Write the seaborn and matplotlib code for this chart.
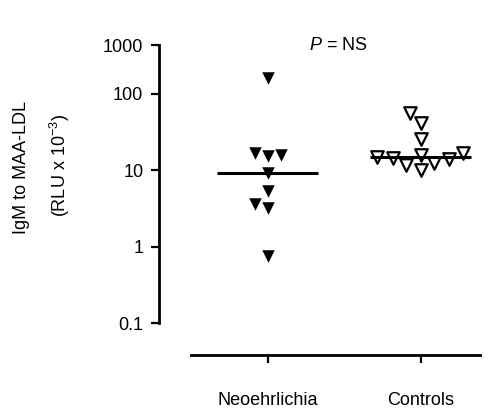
import numpy as np
import pandas as pd
import matplotlib
matplotlib.use("Agg")
import matplotlib.pyplot as plt
import seaborn as sns

# ---- data ----
categories = ["Neoehrlichia", "Controls"]
neo_values = [205, 16.7, 15.7, 15.2, 9.1, 5.3, 3.6, 3.2, 0.76]
control_values = [55.6, 41, 25.4, 16.7, 15.7, 14.8, 14.4, 13.9, 12.4, 11.6, 10]
ytick_values = [0.1, 1, 10, 100, 1000]
ytick_labels = ["0.1", "1", "10", "100", "1000"]

df = pd.DataFrame({
    "group": [categories[0]] * len(neo_values) + [categories[1]] * len(control_values),
    "value": neo_values + control_values,
})

sns.set_style("ticks")
plt.rcParams["font.family"] = ["Liberation Sans", "DejaVu Sans"]
plt.rcParams["mathtext.fontset"] = "custom"
plt.rcParams["mathtext.rm"] = "Liberation Sans"
plt.rcParams["mathtext.it"] = "Liberation Sans:italic"
plt.rcParams["mathtext.bf"] = "Liberation Sans:bold"
for k in ["text.color", "axes.labelcolor", "xtick.color", "ytick.color", "axes.edgecolor"]:
    plt.rcParams[k] = "black"

W, H = 494, 417
fig = plt.figure(figsize=(W / 100, H / 100), dpi=100)
ax = fig.add_axes([191 / W, 1 - 355 / H, (480 - 191) / W, (355 - 45) / H])

# segmented log axis: compressed above 100 (as in the original)
def fwd(y):
    l = np.log10(np.clip(np.asarray(y, dtype=float), 1e-12, None))
    return np.where(l <= 2, l, 2 + (l - 2) * 0.634)

def inv(v):
    v = np.asarray(v, dtype=float)
    return np.where(v <= 2, 10 ** v, 10 ** (2 + (v - 2) / 0.634))

ax.set_yscale("function", functions=(fwd, inv))

neo_df = df[df["group"] == categories[0]]
ctl_df = df[df["group"] == categories[1]]

sns.swarmplot(data=neo_df, x="group", y="value", order=categories, ax=ax,
              marker="v", size=9, color="black", linewidth=0, warn_thresh=1)
sns.swarmplot(data=ctl_df, x="group", y="value", order=categories, ax=ax,
              marker="v", size=9, color="white", edgecolor="black",
              linewidth=1.6, warn_thresh=1)

# median lines
sns.boxplot(data=df, x="group", y="value", order=categories, ax=ax,
            width=0.66, showbox=False, showcaps=False, showfliers=False,
            whiskerprops={"visible": False},
            medianprops={"color": "black", "linewidth": 2.2}, zorder=5)

ax.set_xlim(-0.503, 1.386)
ax.set_ylim(10 ** -1.418, 1000)
ax.set_yticks(ytick_values)
ax.set_yticklabels(ytick_labels)
ax.yaxis.set_minor_locator(matplotlib.ticker.NullLocator())
ax.set_xticks([0, 1])
ax.set_xticklabels(categories)
ax.set_xlabel("")
ax.set_ylabel("")

for s in ["top", "right"]:
    ax.spines[s].set_visible(False)
ax.spines["left"].set_position(("outward", 32 * 0.72))
ax.spines["left"].set_bounds(0.1, 1000)
ax.spines["left"].set_linewidth(2.0)
ax.spines["bottom"].set_linewidth(2.0)
ax.spines["left"].set_color("black")
ax.spines["bottom"].set_color("black")

fs = 13
ax.tick_params(axis="y", length=5.8, width=1.6, pad=5.5, labelsize=fs, color="black", labelcolor="black")
ax.tick_params(axis="x", length=5.8, width=1.6, pad=21, labelsize=fs, color="black", labelcolor="black")

ax.text(0.457, 1000, r"$\it{P}$ = NS", ha="center", va="center", fontsize=fs)

fig.text(22 / W, 1 - 168 / H, "IgM to MAA-LDL", rotation=90,
         ha="center", va="center", fontsize=fs)
fig.text(60 / W, 1 - 166 / H, r"(RLU x 10$^{\mathregular{-3}}$)", rotation=90,
         ha="center", va="center", fontsize=fs)

fig.savefig("out.png", dpi=100)
